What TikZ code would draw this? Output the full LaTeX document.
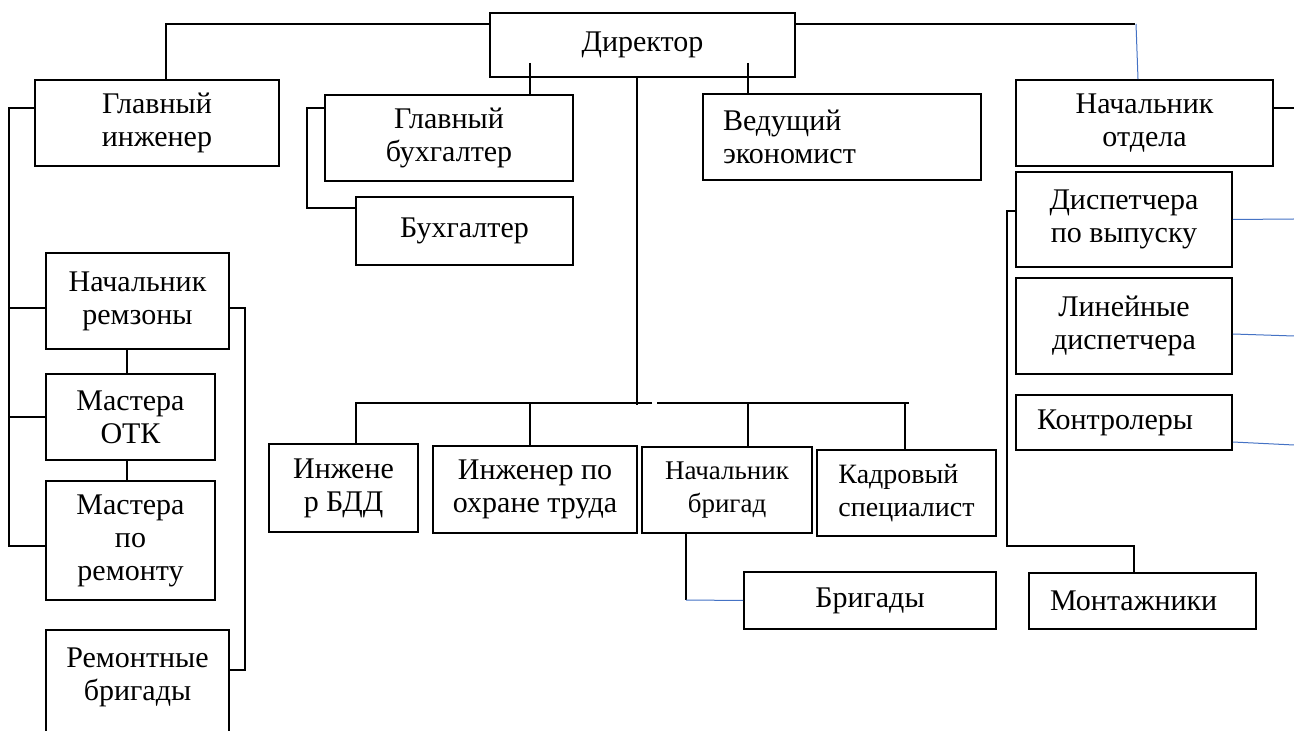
\documentclass[tikz,border=0pt]{standalone}
\usepackage{fontspec}
\setmainfont{Liberation Serif}
\usetikzlibrary{calc}
\definecolor{wordblue}{HTML}{4472C4}

\begin{document}
\begin{tikzpicture}[x=0.5pt, y=-0.5pt,
    every node/.style={font=\fontsize{15}{16.5}\selectfont},
    box/.style={draw, line width=0.85pt, inner sep=0pt, align=center},
    boxsize/.style 2 args={minimum width=#1*0.5pt, minimum height=#2*0.5pt},
    link/.style={line width=0.7pt},
    bluelink/.style={line width=0.5pt, draw=wordblue}]

\useasboundingbox (0,0) rectangle (1294,731);
\clip (0,0) rectangle (1294,731);

% Top level
\node[  box, boxsize={305}{64}
    ] (director) at (642.5,45) {Директор};
\node[  box, boxsize={244}{86}
    ] (chiefeng) at (157,123) {Главный\\инженер};
\node[  box, boxsize={248}{86}
    ] (chiefacc) at (449,138) {Главный\\бухгалтер};
\node[  box, boxsize={217}{68}
    ] (acc) at (464.5,231) {Бухгалтер};
\node[  box, boxsize={278}{86},
        text width=119pt, align=left, inner xsep=10pt
    ] (econ) at (842,137) {Ведущий\\экономист};
\node[  box, boxsize={257}{86}
    ] (head) at (1144.5,123) {Начальник\\отдела};

% Department
\node[  box, boxsize={216}{95}
    ] (disp) at (1124,219.5) {Диспетчера\\по выпуску};
\node[  box, boxsize={216}{96}
    ] (linedisp) at (1124,326) {Линейные\\диспетчера};
\node[  box, boxsize={216}{55},
        text width=87pt, align=left, inner xsep=10.5pt
    ] (control) at (1124,422.5) {Контролеры};
\node[  box, boxsize={227}{56},
        text width=92.5pt, align=left, inner xsep=10.5pt
    ] (fitters) at (1142.5,601) {Монтажники};

% Repair zone
\node[  box, boxsize={183}{96}
    ] (repzone) at (137.5,301) {Начальник\\ремзоны};
\node[  box, boxsize={169}{86}
    ] (otk) at (130.5,417) {Мастера\\ОТК};
\node[  box, boxsize={169}{119}
    ] (repmast) at (130.5,540.5) {Мастера\\по\\ремонту};
\node[  box, minimum width=91.5pt, anchor=north,
        inner ysep=9pt, text depth=40pt
    ] (repteams) at (137.5,629) {Ремонтные\\бригады};

% Staff under the director
\node[  box, boxsize={149}{88}
    ] (safetyeng) at (343.5,488) {Инжене\\р БДД};
\node[  box, boxsize={204}{87}
    ] (laboureng) at (535,489.5) {Инженер по\\охране труда};
\node[  box, boxsize={170}{86},
        font=\fontsize{13.5}{16.5}\selectfont
    ] (teamhead) at (727,490) {Начальник\\бригад};
\node[  box, boxsize={179}{86}, align=left,
        font=\fontsize{14}{16.5}\selectfont
    ] (hr) at (906.5,493) {Кадровый\\специалист};
\node[  box, boxsize={252}{57}
    ] (teams) at (870,600.5) {Бригады};

% Joints
\coordinate (headjoint) at (1135,24);
\coordinate (headout) at (1294,108);
\coordinate (dispout) at (1294,219);
\coordinate (linedispout) at (1294,336);
\coordinate (controlout) at (1294,445);
\coordinate (busL) at (652,403);
\coordinate (busR) at (657,403);
\coordinate (teamcorner) at (686,600);
\coordinate (engbus) at (9,108);
\coordinate (repbus) at (245,308);
\coordinate (accbus) at (307,108);
\coordinate (dispbus) at (1007,211);
\coordinate (fitbend) at (1134,546);

% Lines
\draw[link] (director.west |- headjoint) -| (chiefeng.north -| 166,0);
\draw[link] (director.east |- headjoint) -- (headjoint);
\draw[bluelink] ([xshift=0.5pt]headjoint) -- (head.north -| 1138,0);
\draw[link] (head.east |- headout) -- (headout);
\draw[bluelink] (disp.east) -- (dispout);
\draw[bluelink] (linedisp.east |- 0,334) -- (linedispout);
\draw[bluelink] (control.east |- 0,442) -- (controlout);

\draw[link] ($(director.south -| 530,0)+(0,-15)$) -- (chiefacc.north -| 530,0);
\draw[link] ($(director.south -| 748,0)+(0,-15)$) -- (econ.north -| 748,0);
\draw[link] (chiefacc.west |- accbus) -- (accbus) |- (acc.west |- 0,208);

\draw[link] (director.south -| busL) ++(-15,0) -- ($(busL)+(-15,2)$);
\draw[link] (busL) -| (safetyeng.north -| 356,0);
\draw[link] (busL -| 530,0) -- (laboureng.north -| 530,0);
\draw[link] (busR) -- (busR -| 909,0);
\draw[link] (busR -| 748,0) -- (teamhead.north -| 748,0);
\draw[link] (busR -| 905,0) -- (hr.north -| 905,0);
\draw[link] (teamhead.south -| teamcorner) -- (teamcorner);
\draw[bluelink] (teamcorner) -- (teams.west);

\draw[link] (chiefeng.west |- engbus) -- (engbus) |- (repmast.west |- 0,546);
\draw[link] (engbus |- repbus) -- (repzone.west |- repbus);
\draw[link] (engbus |- otk.west) -- (otk.west);
\draw[link] (repzone.south -| 127,0) -- (otk.north -| 127,0);
\draw[link] (otk.south -| 127,0) -- (repmast.north -| 127,0);
\draw[link] (repzone.east |- repbus) -- (repbus) |- (repteams.east |- 0,670);

\draw[link] (disp.west |- dispbus) -- (dispbus) |- (fitbend) -- (fitters.north -| fitbend);

\end{tikzpicture}
\end{document}
